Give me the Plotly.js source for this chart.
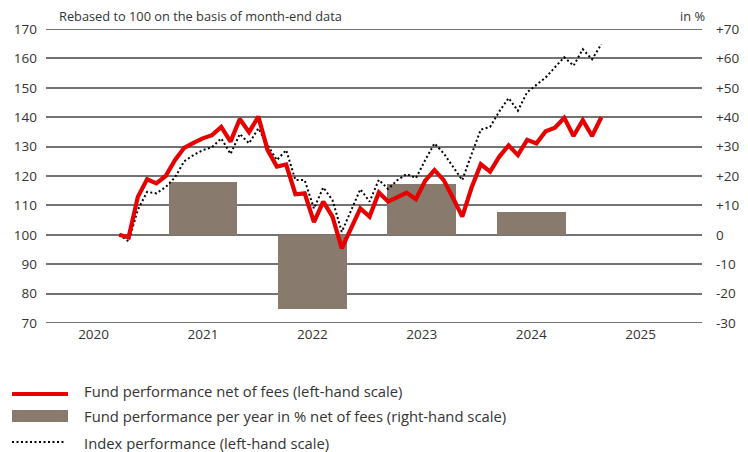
<!DOCTYPE html>
<html>
<head>
<meta charset="utf-8">
<script src="https://cdn.plot.ly/plotly-3.0.1.min.js"></script>
<style>html,body{margin:0;padding:0;background:#fff;}#chart{width:748px;height:452px;}</style>
</head>
<body>
<div id="chart"></div>
<script>
// ---- data ----
const years = ['2020', '2021', '2022', '2023', '2024', '2025'];
const barYears = ['2021', '2022', '2023', '2024'];
const barValues = [18.1, -25.1, 17.3, 7.7];

const firstMonth = '2020-09';
const fundValues = [100, 99.1, 112.9, 118.9, 117.5, 120, 125.4, 129.6, 131.3, 132.8, 133.9, 136.7,
  131.7, 139.4, 134.9, 140.2, 128.8, 123.2, 123.9, 113.8, 114.1, 104.3, 111.3, 106.2,
  95.4, 102.2, 109, 106.2, 114.4, 111.3, 112.9, 114.3, 112.1, 118.4, 122, 118.6,
  112.5, 106.2, 116, 124, 121.5, 126.6, 130.4, 127.1, 132.3, 131.1, 135.2, 136.4,
  139.8, 133.6, 139, 133.6, 140];
const indexValues = [100, 97.8, 108.5, 114.6, 114.1, 116.2, 119.5, 125, 127.1, 128.8, 129.8, 132.8,
  127.5, 134.3, 131.1, 136.2, 130.5, 125.4, 128.8, 118.6, 118.6, 108.9, 116.1, 111.8,
  101, 108.3, 115.5, 111.3, 118.7, 115.6, 118.6, 120.7, 119.3, 125.4, 131.1, 127.7,
  123, 118.6, 127.4, 135.8, 136.7, 142, 146.5, 142.2, 148.5, 151, 153.5, 157,
  160.4, 157.5, 163.1, 159.7, 164.8];

const leftTicks = [70, 80, 90, 100, 110, 120, 130, 140, 150, 160, 170];
const rightTicks = [-30, -20, -10, 0, 10, 20, 30, 40, 50, 60, 70];
const rightTickText = ['-30', '-20', '-10', '0', '+10', '+20', '+30', '+40', '+50', '+60', '+70'];

const names = {
  fund: 'Fund performance net of fees (left-hand scale)',
  bars: 'Fund performance per year in % net of fees (right-hand scale)',
  index: 'Index performance (left-hand scale)'
};
const titleText = 'Rebased to 100 on the basis of month-end data';
const unitText = 'in %';

// month labels for the line series (time axis)
const monthIdx = fundValues.map((_, i) => i);
const monthLabels = monthIdx.map(i => {
  const [y, m] = firstMonth.split('-').map(Number);
  const t = y * 12 + (m - 1) + i;
  return Math.floor(t / 12) + '-' + String(t % 12 + 1).padStart(2, '0');
});

// ---- styling ----
const RED = '#e60000';
const BAR = '#887b6e';
const GRID = '#737373';
const TXT = '#333333';
const FONT = 'Open Sans, Noto Sans, sans-serif';

const W = 748, H = 452;
const M = {l: 46, r: 46, t: 29, b: 129};
const PW = W - M.l - M.r, PH = H - M.t - M.b;
const px = x => (x - M.l) / PW;
const py = y => (H - M.b - y) / PH;

const traces = [
  {type: 'bar', x: barYears, y: barValues, xaxis: 'x', yaxis: 'y', name: names.bars,
   marker: {color: BAR, line: {width: 0}}, width: 0.63, hoverinfo: 'skip'},
  {type: 'scatter', mode: 'lines', x: monthIdx, y: indexValues, text: monthLabels, xaxis: 'x2', yaxis: 'y2', name: names.index,
   line: {color: '#000', width: 2, dash: '2px,2.5px'}},
  {type: 'scatter', mode: 'lines', x: monthIdx, y: fundValues, text: monthLabels, xaxis: 'x2', yaxis: 'y2', name: names.fund,
   line: {color: RED, width: 4.2}}
];

const legendItems = [
  {y: 390.5, name: names.fund},
  {y: 416, name: names.bars},
  {y: 443, name: names.index}
];

const yMin = rightTicks[0], yMax = rightTicks[rightTicks.length - 1];

const shapes = [
  // edge gridlines (Plotly omits grid lines lying on the plot edges)
  {type: 'line', xref: 'paper', yref: 'y', x0: 0, x1: 1, y0: yMin, y1: yMin, layer: 'below', line: {color: GRID, width: 2}},
  {type: 'line', xref: 'paper', yref: 'y', x0: 0, x1: 1, y0: yMax, y1: yMax, layer: 'below', line: {color: GRID, width: 2}},
  // legend keys
  {type: 'line', xref: 'paper', yref: 'paper', x0: px(12), x1: px(68), y0: py(394), y1: py(394), line: {color: RED, width: 4}},
  {type: 'rect', xref: 'paper', yref: 'paper', x0: px(12), x1: px(68), y0: py(410), y1: py(422), fillcolor: BAR, line: {width: 0}},
  {type: 'line', xref: 'paper', yref: 'paper', x0: px(12), x1: px(64), y0: py(442), y1: py(442), line: {color: '#000', width: 2, dash: '2px,2.5px'}}
];

const annotations = legendItems.map(it => ({
  xref: 'paper', yref: 'paper', x: px(82), y: py(it.y), xanchor: 'left', yanchor: 'middle',
  text: it.name, showarrow: false, font: {family: FONT, size: 14.8, color: TXT}
}));
annotations.push({xref: 'paper', yref: 'paper', x: px(57), y: py(16), xanchor: 'left', yanchor: 'middle',
  text: titleText, showarrow: false, font: {family: FONT, size: 12.8, color: TXT}});
annotations.push({xref: 'paper', yref: 'paper', x: px(707), y: py(16), xanchor: 'right', yanchor: 'middle',
  text: unitText, showarrow: false, font: {family: FONT, size: 12.8, color: TXT}});

const layout = {
  width: W, height: H,
  margin: M,
  paper_bgcolor: '#fff', plot_bgcolor: '#fff',
  showlegend: false,
  font: {family: FONT, size: 13, color: TXT},
  bargap: 0,
  xaxis: {type: 'category', categoryorder: 'array', categoryarray: years, range: [-0.435, 5.561],
          showgrid: false, showline: false, zeroline: false, ticks: '', ticklabelstandoff: 1,
          tickfont: {size: 13.5, color: TXT}, fixedrange: true},
  yaxis: {range: [yMin, yMax], side: 'right', tickmode: 'array', tickvals: rightTicks, ticktext: rightTickText,
          showgrid: true, gridcolor: GRID, gridwidth: 2, zeroline: false, showline: false, ticks: '',
          ticklabelstandoff: 13, tickfont: {size: 13.5, color: TXT}, fixedrange: true},
  yaxis2: {range: [leftTicks[0], leftTicks[leftTicks.length - 1]], side: 'left', overlaying: 'y', tickmode: 'array', tickvals: leftTicks,
           showgrid: false, zeroline: false, showline: false, ticks: '', ticklabelstandoff: 8,
           tickfont: {size: 13.5, color: TXT}, fixedrange: true},
  xaxis2: {overlaying: 'x', range: [-7.907, 62.86], visible: false, fixedrange: true},
  shapes: shapes,
  annotations: annotations
};

Plotly.newPlot('chart', traces, layout, {staticPlot: true, displayModeBar: false});
</script>
</body>
</html>
